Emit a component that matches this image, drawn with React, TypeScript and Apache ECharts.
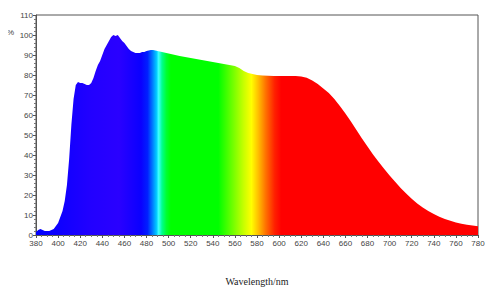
import React, { useEffect, useRef } from "react";
import * as echarts from "echarts";

const wavelengths = [
  380, 382, 384, 386, 388, 390, 392, 394, 396, 398, 400, 402, 404, 406, 408, 410, 412, 414, 416, 418,
  420, 422, 424, 426, 428, 430, 432, 434, 436, 438, 440, 442, 444, 446, 448, 450, 452, 454, 456, 458,
  460, 462, 464, 466, 468, 470, 472, 474, 476, 478, 480, 482, 484, 486, 488, 490, 494, 498, 502, 506,
  510, 515, 520, 525, 530, 535, 540, 545, 550, 555, 560, 564, 568, 572, 576, 580, 585, 590, 595, 600,
  605, 610, 615, 620, 625, 630, 635, 640, 645, 650, 655, 660, 665, 670, 675, 680, 685, 690, 695, 700,
  705, 710, 715, 720, 725, 730, 735, 740, 745, 750, 755, 760, 765, 770, 775, 780,
];

const intensity = [
  1.5, 2.5, 3, 2.5, 2, 2, 2, 2.5, 3, 4.5, 6, 9, 12, 17, 25, 38, 55, 68, 75, 76.5,
  76, 76, 75.5, 75, 75, 76, 78.5, 82, 85, 87, 90, 93, 95, 97, 99, 100, 99.5, 100, 98.5, 97,
  96, 94.5, 93, 92, 91.5, 91, 91, 91, 91.5, 91.5, 92, 92.3, 92.5, 92.5, 92.3, 92, 91.5, 91, 90.5, 90,
  89.5, 89, 88.5, 88, 87.5, 87, 86.5, 86, 85.5, 85, 84.5, 83.5, 82, 81, 80.5, 80, 79.8, 79.6, 79.5, 79.5,
  79.5, 79.5, 79.5, 79.3, 78.6, 77.3, 75.5, 73.3, 71, 68, 64.5, 60.7, 56.7, 52.5, 48.3, 44.2, 40.3, 36.6, 33.1, 29.8,
  26.6, 23.5, 20.7, 18.1, 15.7, 13.7, 12, 10.5, 9.1, 8, 7.1, 6.3, 5.6, 5.1, 4.7, 4.4,
];

const xTicks = { min: 380, max: 780, step: 20 };
const yTicks = { min: 0, max: 110, step: 10 };

const spectrumStops: [number, string][] = [
  [380, "#0000ff"],
  [430, "#2200ff"],
  [455, "#2a00ff"],
  [475, "#0a00ff"],
  [481, "#0020ff"],
  [485, "#0070ff"],
  [489, "#00c8ff"],
  [491, "#40ffff"],
  [494, "#00ff90"],
  [498, "#00ff30"],
  [502, "#00ff00"],
  [545, "#00ff00"],
  [558, "#70ff00"],
  [568, "#c8ff00"],
  [575, "#ffff00"],
  [581, "#ffc000"],
  [588, "#ff7000"],
  [596, "#ff2000"],
  [602, "#ff0000"],
  [780, "#ff0000"],
];

export default function App() {
  const ref = useRef<HTMLDivElement>(null);
  useEffect(() => {
    if (!ref.current) return;
    const chart = echarts.init(ref.current, null, { renderer: "svg" });
    const span = xTicks.max - xTicks.min;
    const gradient = new echarts.graphic.LinearGradient(
      0, 0, 1, 0,
      spectrumStops.map(([w, c]) => ({ offset: (w - xTicks.min) / span, color: c }))
    );
    const labelStyle = { color: "#444", fontSize: 8, fontFamily: "Liberation Sans" };
    chart.setOption({
      animation: false,
      backgroundColor: "#fff",
      grid: {
        left: 36,
        right: 15,
        top: 15,
        bottom: 62,
        show: true,
        borderColor: "#555",
        borderWidth: 1,
        containLabel: false,
      },
      xAxis: {
        type: "value",
        min: xTicks.min,
        max: xTicks.max,
        interval: xTicks.step,
        name: "Wavelength/nm",
        nameLocation: "middle",
        nameGap: 41,
        nameTextStyle: { color: "#222", fontSize: 10, fontFamily: "Liberation Serif" },
        axisLine: { lineStyle: { color: "#555", width: 1 } },
        axisTick: { length: 3, lineStyle: { color: "#555" } },
        minorTick: { show: true, splitNumber: 4, length: 2, lineStyle: { color: "#777" } },
        splitLine: { show: false },
        axisLabel: { ...labelStyle, margin: 4 },
      },
      yAxis: {
        type: "value",
        min: yTicks.min,
        max: yTicks.max,
        interval: yTicks.step,
        axisLine: { show: true, lineStyle: { color: "#555", width: 1 } },
        axisTick: { show: true, length: 3, lineStyle: { color: "#555" } },
        minorTick: { show: true, splitNumber: 5, length: 2, lineStyle: { color: "#777" } },
        splitLine: { show: false },
        axisLabel: { ...labelStyle, margin: 3 },
      },
      graphic: [
        {
          type: "text",
          left: 7,
          top: 28,
          style: { text: "%", fill: "#444", fontSize: 8, fontFamily: "Liberation Sans" },
        },
      ],
      series: [
        {
          type: "line",
          data: wavelengths.map((w, i) => [w, intensity[i]]),
          showSymbol: false,
          symbol: "none",
          lineStyle: { width: 0 },
          areaStyle: { color: gradient, opacity: 1 },
          silent: true,
        },
      ],
    });
    return () => chart.dispose();
  }, []);
  return <div ref={ref} style={{ width: 493, height: 297, margin: -8 }} />;
}
